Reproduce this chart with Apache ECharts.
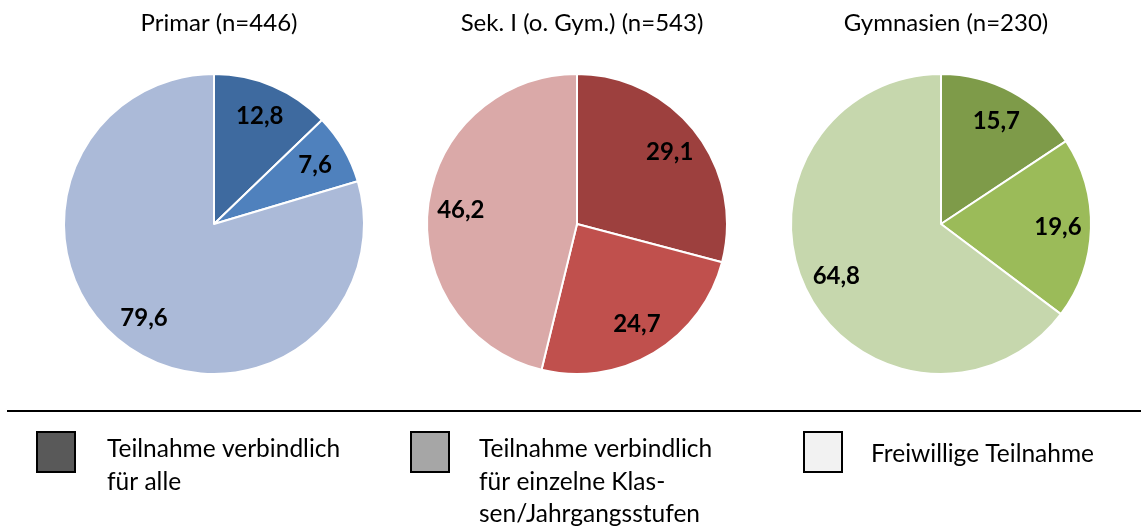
<!DOCTYPE html>
<html><head><meta charset="utf-8">
<script src="https://cdn.jsdelivr.net/npm/echarts@6/dist/echarts.min.js"></script>
<style>html,body{margin:0;padding:0;background:#fff}#c{width:1141px;height:527px}</style>
</head><body><div id="c"></div>
<script>
const categories = ['Teilnahme verbindlich für alle', 'Teilnahme verbindlich für einzelne Klassen/Jahrgangsstufen', 'Freiwillige Teilnahme'];
const legendLabels = ['Teilnahme verbindlich\nfür alle', 'Teilnahme verbindlich\nfür einzelne Klas-\nsen/Jahrgangsstufen', 'Freiwillige Teilnahme'];
const pieTitles = ['Primar (n=446)', 'Sek. I (o. Gym.) (n=543)', 'Gymnasien (n=230)'];
const primarValues = [12.8, 7.6, 79.6];
const sekValues = [29.1, 24.7, 46.2];
const gymValues = [15.7, 19.6, 64.8];
const pieValues = [primarValues, sekValues, gymValues];
const pieColors = [
  ['#3e6a9f', '#4f81bd', '#abbad8'],
  ['#9d403e', '#c0504d', '#daa9a8'],
  ['#7e9b49', '#9bbb59', '#c6d7ad']
];
const legendColors = ['#595959', '#a6a6a6', '#f2f2f2'];

const centersX = [214, 577, 941];
const centerY = 224;
const R = 150;
const FONT = 'Lato';

const series = [];
pieValues.forEach((vals, p) => {
  const data = vals.map((v, i) => ({ name: categories[i], value: v, itemStyle: { color: pieColors[p][i] } }));
  series.push({
    type: 'pie', center: [centersX[p], centerY], radius: [0, R], startAngle: 90, clockwise: true,
    animation: false, label: { show: false }, labelLine: { show: false },
    itemStyle: { borderColor: '#ffffff', borderWidth: 2 },
    emphasis: { disabled: true },
    data: data
  });
  series.push({
    type: 'pie', center: [centersX[p], centerY], radius: [78, R], startAngle: 90, clockwise: true,
    animation: false, silent: true,
    itemStyle: { color: 'rgba(0,0,0,0)', borderWidth: 0 },
    emphasis: { disabled: true },
    label: {
      show: true, position: 'inside', color: '#000', fontFamily: FONT, fontWeight: 'bold', fontSize: 24,
      formatter: (prm) => prm.value.toFixed(1).replace('.', ',')
    },
    labelLine: { show: false },
    data: vals.map((v, i) => ({ name: categories[i], value: v }))
  });
});

const titles = pieTitles.map((t, p) => ({
  text: t, left: centersX[p], top: 6, textAlign: 'center',
  textStyle: { fontFamily: FONT, fontWeight: 'normal', fontSize: 24, color: '#000' }
}));

const legendBoxX = [37, 411, 804];
const legendTextX = [107, 479, 871];
const legendTextY = [433, 433, 438];
const legendGraphics = [];
categories.forEach((c, i) => {
  legendGraphics.push({
    type: 'rect', shape: { x: legendBoxX[i], y: 432, width: 38, height: 40 },
    style: { fill: legendColors[i], stroke: '#000', lineWidth: 2 }, silent: true
  });
  legendGraphics.push({
    type: 'text', x: legendTextX[i], y: legendTextY[i], silent: true,
    style: { text: legendLabels[i], fill: '#000', font: '24.5px ' + FONT, lineHeight: 32.5, verticalAlign: 'top', align: 'left' }
  });
});

const chart = echarts.init(document.getElementById('c'), null, { renderer: 'canvas' });
chart.setOption({
  backgroundColor: '#ffffff',
  animation: false,
  title: titles,
  graphic: [{
    type: 'line', shape: { x1: 7, y1: 411, x2: 1141, y2: 411 },
    style: { stroke: '#000', lineWidth: 2 }, silent: true
  }].concat(legendGraphics),
  series: series
});
</script>
</body></html>
